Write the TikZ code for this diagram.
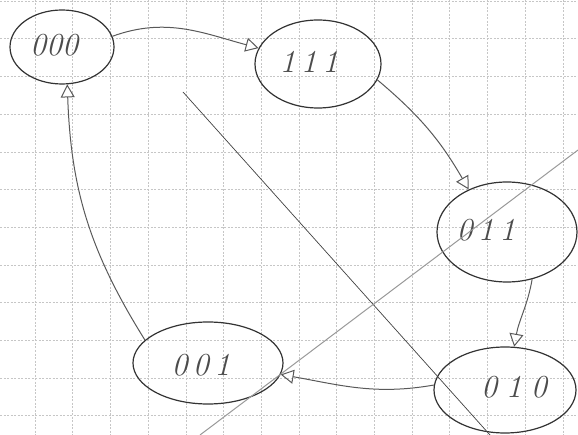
\documentclass[tikz,border=0pt]{standalone}
\usetikzlibrary{shapes.geometric,arrows.meta}
\begin{document}
\begin{tikzpicture}[x=1pt,y=1pt]
\tikzset{
 gridline/.style={draw=gray!45, dash pattern=on 2pt off 1.5pt, line width=0.5pt},
 state/.style={ellipse, draw=black!80, line width=1.2pt, inner sep=0pt},
 lbl/.style={font=\fontsize{32}{32}\selectfont\itshape, text=black!70},
 arr/.style={draw=black!65, line width=1pt, -{Triangle[open,length=13pt,width=14pt]}},
 slashdark/.style={draw=black!75, line width=0.7pt},
 slashlight/.style={draw=black!40, line width=1pt}
}
\useasboundingbox (0,0) rectangle (578,-435);
% grid paper
\foreach \k in {0,...,14} \draw[gridline] (35+37.7*\k,0) -- (35+37.7*\k,-435);
\foreach \k in {0,...,11} \draw[gridline] (0,-1-37.7*\k) -- (578,-1-37.7*\k);
% states
\node[state, minimum width=104pt, minimum height=74pt] (n000) at (62,-47) {};
\node[state, minimum width=126pt, minimum height=88pt] (n111) at (318,-64) {};
\node[state, minimum width=140pt, minimum height=100pt] (n011) at (507,-232) {};
\node[state, minimum width=150pt, minimum height=82pt] (n001) at (208,-363) {};
\node[state, minimum width=142pt, minimum height=86pt] (n010) at (505,-390) {};
% labels
\node[lbl] (t000) at (54,-45) {000};
\node[lbl] (t111) at (309,-62) {1\,1\,1};
\node[lbl] (t011) at (486,-230) {0\,1\,1};
\node[lbl] (t001) at (201,-365) {0\,0\,1};
\node[lbl] (t010) at (514,-387) {0\;1\;0};
% transitions
\draw[arr] (n000.12) to[out=20,in=165] (n111.165);
\draw[arr] (n111.-15) to[out=-40,in=120] (n011.132);
\draw[arr] (n011.-62) to[out=-100,in=80] (n010.78);
\draw[arr] (n010.176) to[out=190,in=-10] (n001.-9);
\draw[arr] (n001.160) to[out=122,in=-88] (n000.-82);
% crossing strokes
\coordinate (a1) at (183,-92);
\coordinate (a2) at (490,-435);
\coordinate (b1) at (578,-150);
\coordinate (b2) at (200,-435);
\draw[slashdark] (a1) -- (a2);
\draw[slashlight] (b1) -- (b2);
\end{tikzpicture}
\end{document}
